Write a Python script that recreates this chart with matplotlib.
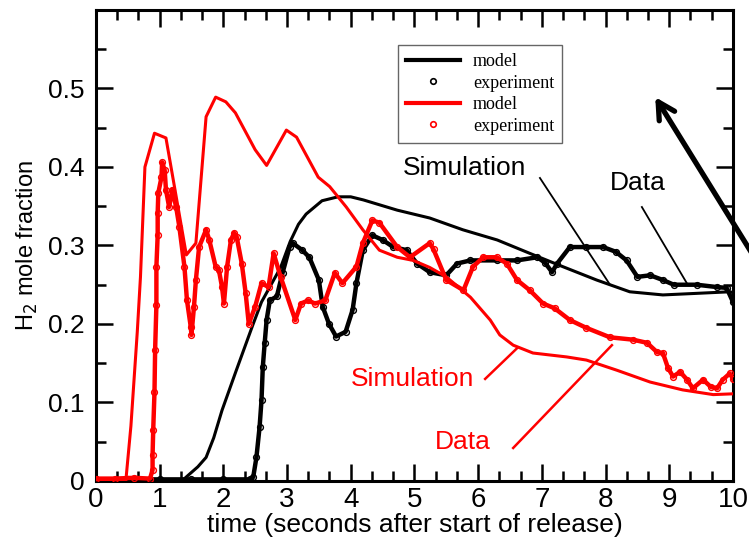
import matplotlib
matplotlib.use("Agg")
import matplotlib.pyplot as plt
from matplotlib.ticker import AutoMinorLocator, FuncFormatter

plt.rcParams['font.family'] = ['Liberation Sans', 'DejaVu Sans']

# black: model (smooth line) and experiment (circles)
black_model_t = [0, 1.35, 1.46, 1.6, 1.73, 1.85, 1.98, 2.2, 2.46, 2.6, 2.75, 2.9, 3.05,
                 3.18, 3.3, 3.55, 3.8, 4.0, 4.2, 4.73, 5.24, 5.76, 6.3, 6.81, 7.33, 7.86,
                 8.38, 8.9, 9.43, 9.95, 10.0]
black_model_y = [0, 0, 0.008, 0.018, 0.03, 0.055, 0.09, 0.14, 0.198, 0.228, 0.25, 0.272, 0.305,
                 0.327, 0.34, 0.357, 0.362, 0.362, 0.358, 0.345, 0.335, 0.32, 0.307, 0.29, 0.273,
                 0.256, 0.241, 0.237, 0.239, 0.241, 0.24]

black_exp_t = [0, 0.5, 1.0, 1.5, 2.0, 2.42, 2.47, 2.52, 2.57, 2.6, 2.62, 2.65, 2.68, 2.73,
               2.84, 2.93, 3.04, 3.09, 3.24, 3.35, 3.5, 3.56, 3.66, 3.77, 3.92, 4.03, 4.09,
               4.19, 4.34, 4.5, 4.67, 4.88, 5.04, 5.24, 5.5, 5.67, 5.88, 6.29, 6.61, 6.93,
               7.05, 7.16, 7.24, 7.44, 7.7, 7.96, 8.16, 8.33, 8.5, 8.7, 8.9, 9.07, 9.43,
               9.75, 9.9, 10.0]
black_exp_y = [0.002, 0.002, 0.002, 0.002, 0.002, 0.002, 0.005, 0.03, 0.069, 0.103, 0.145, 0.176,
               0.205, 0.23, 0.235, 0.265, 0.298, 0.303, 0.294, 0.285, 0.256, 0.222, 0.2, 0.184,
               0.19, 0.218, 0.252, 0.294, 0.313, 0.307, 0.298, 0.294, 0.277, 0.266, 0.262,
               0.277, 0.281, 0.281, 0.281, 0.285, 0.278, 0.266, 0.277, 0.298, 0.298, 0.298,
               0.292, 0.281, 0.26, 0.262, 0.256, 0.25, 0.25, 0.247, 0.246, 0.228]

# red: model and experiment
red_model_t = [0, 0.47, 0.55, 0.65, 0.7, 0.77, 0.92, 1.1, 1.42, 1.57, 1.73, 1.88, 2.04, 2.19,
               2.5, 2.68, 2.99, 3.15, 3.49, 3.67, 3.93, 4.19, 4.45, 4.73, 4.98, 5.24, 5.5,
               5.88, 6.19, 6.34, 6.55, 6.86, 7.39, 7.7, 8.18, 8.7, 9.21, 9.69, 10.0]
red_model_y = [0, 0, 0.07, 0.19, 0.26, 0.4, 0.443, 0.437, 0.288, 0.303, 0.464, 0.489, 0.483,
               0.469, 0.422, 0.402, 0.447, 0.438, 0.387, 0.375, 0.349, 0.32, 0.294, 0.285,
               0.281, 0.272, 0.26, 0.234, 0.205, 0.186, 0.173, 0.163, 0.158, 0.154, 0.141,
               0.126, 0.116, 0.11, 0.111]

red_exp_t = [0, 0.3, 0.6, 0.85, 0.89, 0.89, 0.9, 0.92, 0.93, 0.95, 0.95, 0.97, 0.97, 0.98,
             1.03, 1.04, 1.08, 1.1, 1.15, 1.2, 1.26, 1.31, 1.39, 1.43, 1.49, 1.5, 1.54, 1.57,
             1.62, 1.73, 1.78, 1.88, 1.93, 1.98, 2.01, 2.06, 2.12, 2.17, 2.21, 2.29, 2.35,
             2.4, 2.5, 2.6, 2.71, 2.79, 2.9, 3.13, 3.22, 3.33, 3.44, 3.6, 3.75, 3.87, 4.09,
             4.19, 4.34, 4.45, 4.73, 4.93, 5.24, 5.3, 5.5, 5.77, 5.92, 6.08, 6.29, 6.45,
             6.61, 6.81, 7.02, 7.2, 7.44, 7.7, 8.07, 8.43, 8.65, 8.81, 8.9, 8.98, 9.06,
             9.17, 9.28, 9.37, 9.53, 9.65, 9.75, 9.84, 9.95, 10.0]
red_exp_y = [0.003, 0.003, 0.004, 0.003, 0.014, 0.033, 0.065, 0.113, 0.167, 0.224, 0.273,
             0.313, 0.341, 0.367, 0.387, 0.406, 0.396, 0.371, 0.349, 0.371, 0.349, 0.324,
             0.273, 0.23, 0.196, 0.186, 0.222, 0.256, 0.298, 0.32, 0.307, 0.273, 0.269,
             0.247, 0.226, 0.273, 0.307, 0.316, 0.311, 0.277, 0.24, 0.2, 0.222, 0.252,
             0.247, 0.29, 0.26, 0.205, 0.226, 0.23, 0.226, 0.23, 0.265, 0.252, 0.273, 0.303,
             0.332, 0.329, 0.298, 0.285, 0.303, 0.295, 0.256, 0.243, 0.273, 0.285, 0.285,
             0.277, 0.256, 0.243, 0.226, 0.22, 0.205, 0.195, 0.183, 0.18, 0.176, 0.164,
             0.163, 0.144, 0.133, 0.139, 0.129, 0.118, 0.129, 0.12, 0.118, 0.129, 0.137, 0.13]

x_ticks = list(range(0, 11))
y_ticks = [0, 0.1, 0.2, 0.3, 0.4, 0.5]

fig = plt.figure(figsize=(7.49, 5.41), dpi=100)
ax = fig.add_axes([0.128, 0.111, 0.8506, 0.8705])

# experiment first (drawn under), black then red
ax.plot(black_exp_t, black_exp_y, color='black', lw=3.2, zorder=2, solid_joinstyle='round')
ax.plot(black_exp_t, black_exp_y, 'o', color='black', mfc='none', ms=4.2, mew=1.0, zorder=2)
ax.plot(black_model_t, black_model_y, color='black', lw=2.2, zorder=3)
ax.plot(red_exp_t, red_exp_y, color='red', lw=3.2, zorder=4, solid_joinstyle='round')
ax.plot(red_exp_t, red_exp_y, 'o', color='red', mfc='none', ms=4.2, mew=1.0, zorder=4)
ax.plot(red_model_t, red_model_y, color='red', lw=2.2, zorder=5)

# legend
h1, = ax.plot([], [], color='black', lw=3)
h2, = ax.plot([], [], 'o', color='black', mfc='none', ms=4, mew=1.2)
h3, = ax.plot([], [], color='red', lw=3)
h4, = ax.plot([], [], 'o', color='red', mfc='none', ms=4, mew=1.2)
leg = ax.legend([h1, h2, h3, h4], ['model', 'experiment', 'model', 'experiment'],
                loc='upper left', bbox_to_anchor=(0.46, 0.945), fancybox=False,
                framealpha=1, edgecolor='#666666', handlelength=3.0, handletextpad=0.7,
                labelspacing=0.25, borderpad=0.45,
                prop={'family': 'Liberation Serif', 'size': 13})
leg.get_frame().set_linewidth(1.0)

ax.set_xlim(0, 10)
ax.set_ylim(0, 0.6)
ax.set_xticks(x_ticks)
ax.set_yticks(y_ticks)
ax.xaxis.set_minor_locator(AutoMinorLocator(3))
ax.yaxis.set_minor_locator(AutoMinorLocator(2))
ax.yaxis.set_major_formatter(FuncFormatter(lambda v, p: '0' if v == 0 else f'{v:.1f}'))
ax.tick_params(which='both', direction='in', top=True, right=True, width=1.8)
ax.tick_params(which='major', length=12)
ax.tick_params(which='minor', length=7)
ax.tick_params(axis='x', labelsize=20, pad=4)
ax.tick_params(axis='y', labelsize=19, pad=8)
for s in ax.spines.values():
    s.set_linewidth(2.2)

ax.set_xlabel('time (seconds after start of release)', fontsize=19, labelpad=0)
ax.set_ylabel('H$_2$ mole fraction', fontsize=17, labelpad=6)

# annotations
ax.text(5.78, 0.399, 'Simulation', fontsize=19, ha='center', va='center')
ax.plot([6.97, 8.07], [0.386, 0.25], color='black', lw=1.3, zorder=6)
ax.text(8.51, 0.38, 'Data', fontsize=19, ha='center', va='center')
ax.plot([8.57, 9.29], [0.349, 0.25], color='black', lw=1.3, zorder=6)
ax.text(4.97, 0.13, 'Simulation', fontsize=19, ha='center', va='center', color='red')
ax.plot([6.11, 6.61], [0.13, 0.169], color='red', lw=1.8, zorder=6)
ax.text(5.76, 0.05, 'Data', fontsize=19, ha='center', va='center', color='red')
ax.plot([6.55, 8.10], [0.042, 0.173], color='red', lw=1.8, zorder=6)

ax.annotate('', xy=(8.78, 0.489), xytext=(10.45, 0.27), annotation_clip=False,
            arrowprops=dict(arrowstyle='->,head_length=1.2,head_width=0.65', lw=3.8,
                            color='black', shrinkA=0, shrinkB=0))

fig.savefig('out.png', dpi=100)
